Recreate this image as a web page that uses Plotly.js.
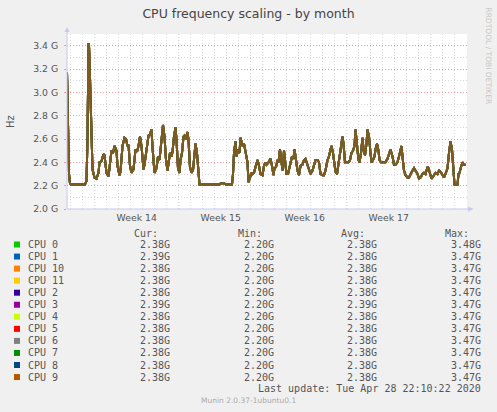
<!DOCTYPE html>
<html>
<head>
<meta charset="utf-8">
<script src="https://cdn.plot.ly/plotly-3.0.1.min.js"></script>
<style>
html,body{margin:0;padding:0;background:#F0F0F0;}
#chart{width:497px;height:412px;}
</style>
</head>
<body>
<div id="chart"></div>
<script>
// ---------- DATA ----------
const chartTitle = 'CPU frequency scaling - by month';
const rangeStart = '2020-03-26 16:36';
const rangeHours = 800;
// sample times, hours after rangeStart
const sampleHours = [0,2,4,6,8,16,26,36,39,41,43,44,45,47,51,55,59,63,65,69,73,75,79,83,86,89,92,95,99,101,105,107,111,115,118,121,123,126,129,133,137,140,143,146,149,153,155,159,163,166,169,171,175,179,182,185,189,192,195,198,201,203,206,209,211,214,217,219,222,225,227,230,233,235,238,241,243,246,249,252,255,257,260,263,265,276,286,296,304,308,314,318,330,332,334,337,339,342,345,347,351,354,357,361,363,366,369,371,374,377,381,384,387,391,394,397,399,403,407,410,413,415,418,421,423,426,429,431,434,437,439,442,445,447,450,453,455,458,461,464,467,471,474,477,481,484,487,491,494,497,501,504,507,511,514,517,521,524,527,529,532,535,537,540,543,545,548,551,553,556,559,563,566,569,572,575,577,580,583,585,588,591,593,596,599,601,604,607,609,612,615,617,620,623,625,628,631,634,637,641,644,647,651,654,657,661,664,667,669,671,674,677,681,684,687,691,694,697,701,704,707,711,714,717,721,723,726,729,731,734,737,741,744,747,751,754,757,761,764,767,770,773,775,778,781,783,785,788,791,794,797];
// frequency in GHz (all CPUs overlap in the picture)
const cpuFreqGHz = [3.17,2.60,2.30,2.22,2.21,2.21,2.21,2.21,2.24,2.60,3.42,3.40,3.28,2.91,2.34,2.27,2.26,2.31,2.40,2.41,2.47,2.46,2.31,2.28,2.39,2.50,2.48,2.54,2.50,2.37,2.29,2.32,2.54,2.61,2.60,2.54,2.55,2.37,2.31,2.34,2.51,2.49,2.54,2.62,2.54,2.34,2.38,2.51,2.63,2.64,2.68,2.53,2.31,2.35,2.45,2.42,2.59,2.72,2.62,2.42,2.33,2.38,2.48,2.45,2.49,2.62,2.70,2.59,2.35,2.31,2.42,2.48,2.62,2.63,2.60,2.66,2.59,2.36,2.31,2.33,2.48,2.56,2.48,2.31,2.21,2.21,2.21,2.21,2.21,2.22,2.22,2.21,2.21,2.30,2.48,2.58,2.45,2.51,2.48,2.61,2.54,2.56,2.50,2.40,2.23,2.27,2.31,2.30,2.31,2.36,2.42,2.37,2.30,2.29,2.37,2.40,2.38,2.40,2.43,2.37,2.29,2.35,2.36,2.42,2.40,2.51,2.42,2.33,2.50,2.36,2.30,2.30,2.36,2.42,2.45,2.43,2.51,2.42,2.33,2.29,2.37,2.38,2.42,2.43,2.37,2.33,2.30,2.33,2.38,2.42,2.42,2.40,2.30,2.29,2.29,2.33,2.42,2.45,2.51,2.54,2.48,2.35,2.32,2.30,2.38,2.42,2.50,2.62,2.56,2.40,2.40,2.40,2.42,2.48,2.50,2.54,2.68,2.54,2.42,2.40,2.48,2.61,2.51,2.46,2.56,2.68,2.62,2.48,2.40,2.42,2.45,2.51,2.56,2.50,2.42,2.40,2.40,2.40,2.40,2.43,2.48,2.51,2.45,2.38,2.38,2.40,2.45,2.52,2.54,2.45,2.33,2.29,2.27,2.27,2.30,2.33,2.35,2.33,2.30,2.26,2.27,2.30,2.31,2.30,2.36,2.35,2.29,2.26,2.27,2.29,2.31,2.30,2.33,2.32,2.29,2.27,2.30,2.35,2.48,2.58,2.51,2.36,2.21,2.21,2.21,2.30,2.31,2.36,2.40,2.38,2.38];

const cpuNames  = ['CPU 0','CPU 1','CPU 10','CPU 11','CPU 2','CPU 3','CPU 4','CPU 5','CPU 6','CPU 7','CPU 8','CPU 9'];
const cpuColors = ['#00CC00','#0066B3','#FF8000','#FFCC00','#330099','#990099','#CCFF00','#FF0000','#808080','#008F00','#00487D','#B35A00'];
const curG = [2.38,2.39,2.38,2.38,2.38,2.39,2.38,2.38,2.38,2.38,2.38,2.38];
const minG = [2.20,2.20,2.20,2.20,2.20,2.20,2.20,2.20,2.20,2.20,2.20,2.20];
const avgG = [2.38,2.38,2.38,2.38,2.38,2.39,2.38,2.38,2.38,2.38,2.38,2.38];
const maxG = [3.48,3.47,3.47,3.47,3.47,3.47,3.47,3.47,3.47,3.47,3.47,3.47];
const columnHeaders = ['Cur:','Min:','Avg:','Max:'];

const yTickVals = [2.0,2.2,2.4,2.6,2.8,3.0,3.2,3.4];
const yTickText = ['2.0 G','2.2 G','2.4 G','2.6 G','2.8 G','3.0 G','3.2 G','3.4 G'];
const weekStarts = ['2020-03-29','2020-04-05','2020-04-12','2020-04-19','2020-04-26'];
const weekMidpoints = ['2020-04-01 12:00','2020-04-08 12:00','2020-04-15 12:00','2020-04-22 12:00'];
const weekLabels = ['Week 14','Week 15','Week 16','Week 17'];
const lastUpdate = 'Last update: Tue Apr 28 22:10:22 2020';
const footer = 'Munin 2.0.37-1ubuntu0.1';
const watermark = 'RRDTOOL / TOBI OETIKER';

// ---------- helpers ----------
function toDateStr(ms){ return new Date(ms).toISOString().slice(0,19).replace('T',' '); }
const startMs = Date.parse(rangeStart.replace(' ','T')+':00Z');
const xDates = sampleHours.map(h => toDateStr(startMs + h*3600e3));
const rangeEnd = toDateStr(startMs + rangeHours*3600e3);

// plot area in pixels: x 67..467, y 34..209
const PL=67, PW=400, PT=34, PH=175;
const px = x => (x-PL)/PW;
const py = y => (PT+PH-y)/PH;

const mono = 'DejaVu Sans Mono';
const sans = 'DejaVu Sans';
const textCol = '#555555';

const traces = cpuNames.map((n,i)=>({
  type:'scatter', mode:'lines', name:n,
  x:xDates, y:cpuFreqGHz,
  line:{color:cpuColors[i], width:2},
  opacity:0.68, hoverinfo:'skip'
}));

const annotations = [];
// watermark
annotations.push({xref:'paper',yref:'paper',x:px(487.5),y:py(56),text:watermark,showarrow:false,
  textangle:90,font:{family:sans,size:7.5,color:'#C8C8C8'},xanchor:'center',yanchor:'middle'});
// legend headers
const colRight = [171.7,276,379,482.7];
const headerRight = [159.5,263.5,367,470.5];
columnHeaders.forEach((h,j)=>annotations.push({xref:'paper',yref:'paper',x:px(headerRight[j]),y:py(233.5),
  text:h,showarrow:false,xanchor:'right',yanchor:'middle',font:{family:mono,size:10,color:textCol}}));
const shapes = [];
cpuNames.forEach((n,i)=>{
  const yy = 244.5 + i*12.05;
  shapes.push({type:'rect',xref:'paper',yref:'paper',x0:px(14),x1:px(20),y0:py(yy+3),y1:py(yy-3),
    fillcolor:cpuColors[i],line:{width:0}});
  annotations.push({xref:'paper',yref:'paper',x:px(26),y:py(yy),text:n,showarrow:false,
    xanchor:'left',yanchor:'middle',font:{family:mono,size:10,color:textCol}});
  [curG[i],minG[i],avgG[i],maxG[i]].forEach((v,j)=>annotations.push({xref:'paper',yref:'paper',
    x:px(colRight[j]),y:py(yy),text:v.toFixed(2)+'G',showarrow:false,xanchor:'right',yanchor:'middle',
    font:{family:mono,size:10,color:textCol}}));
});
annotations.push({xref:'paper',yref:'paper',x:px(482.7),y:py(388.5),text:lastUpdate,showarrow:false,
  xanchor:'right',yanchor:'middle',font:{family:mono,size:10,color:textCol}});
annotations.push({xref:'paper',yref:'paper',x:px(248),y:py(401),text:footer,showarrow:false,
  xanchor:'center',yanchor:'middle',font:{family:sans,size:7.5,color:'#AAAAAA'}});

// week boundary red grid lines
weekStarts.forEach(d=>shapes.push({type:'line',xref:'x',yref:'paper',x0:d,x1:d,y0:0,y1:1,layer:'below',
  line:{color:'#F09A9A',width:1,dash:'1px,2px'}}));
// axis extensions with arrows
const axisCol = '#C8C8F0';
shapes.push({type:'line',xref:'paper',yref:'paper',x0:px(67),x1:px(67),y0:py(209),y1:py(29),line:{color:axisCol,width:1}});
shapes.push({type:'path',xref:'paper',yref:'paper',path:`M ${px(64.5)} ${py(32)} L ${px(69.5)} ${py(32)} L ${px(67)} ${py(27)} Z`,fillcolor:axisCol,line:{width:0}});
shapes.push({type:'line',xref:'paper',yref:'paper',x0:px(67),x1:px(471),y0:py(209),y1:py(209),line:{color:axisCol,width:1}});
shapes.push({type:'path',xref:'paper',yref:'paper',path:`M ${px(468)} ${py(206.5)} L ${px(468)} ${py(211.5)} L ${px(473.5)} ${py(209)} Z`,fillcolor:axisCol,line:{width:0}});

const layout = {
  width:497, height:412,
  paper_bgcolor:'#F0F0F0', plot_bgcolor:'#FFFFFF',
  margin:{l:PL, r:497-PL-PW, t:PT, b:412-PT-PH, pad:0},
  showlegend:false,
  font:{family:sans, color:textCol},
  title:{text:chartTitle, x:0.5, xref:'container', xanchor:'center', y:1-13.5/412, yref:'container', yanchor:'middle',
    font:{family:sans,size:12.5,color:'#444444'}},
  xaxis:{type:'date', range:[rangeStart, rangeEnd], tickmode:'array', tickvals:weekMidpoints, ticktext:weekLabels,
    showgrid:false, zeroline:false, showline:false, ticks:'', ticklabelstandoff:2,
    tickfont:{family:sans,size:9.3,color:textCol},
    minor:{tick0:'2020-03-29', dtick:86400000, showgrid:true, gridcolor:'#D8D8D8', griddash:'1px,2px', gridwidth:1, ticks:''}},
  yaxis:{range:[2.0,3.5], tickmode:'array', tickvals:yTickVals, ticktext:yTickText,
    showgrid:true, gridcolor:'#F09A9A', griddash:'1px,2px', gridwidth:1, zeroline:false, showline:false,
    ticks:'outside', ticklen:2, tickcolor:'#F09A9A', ticklabelstandoff:4,
    tickfont:{family:sans,size:9.3,color:textCol},
    minor:{tick0:2.0, dtick:0.1, showgrid:true, gridcolor:'#D8D8D8', griddash:'1px,2px', gridwidth:1, ticks:''},
    title:{text:'Hz', standoff:16, font:{family:sans,size:10,color:textCol}}},
  annotations: annotations,
  shapes: shapes
};

Plotly.newPlot('chart', traces, layout, {staticPlot:true, displayModeBar:false});
</script>
</body>
</html>
